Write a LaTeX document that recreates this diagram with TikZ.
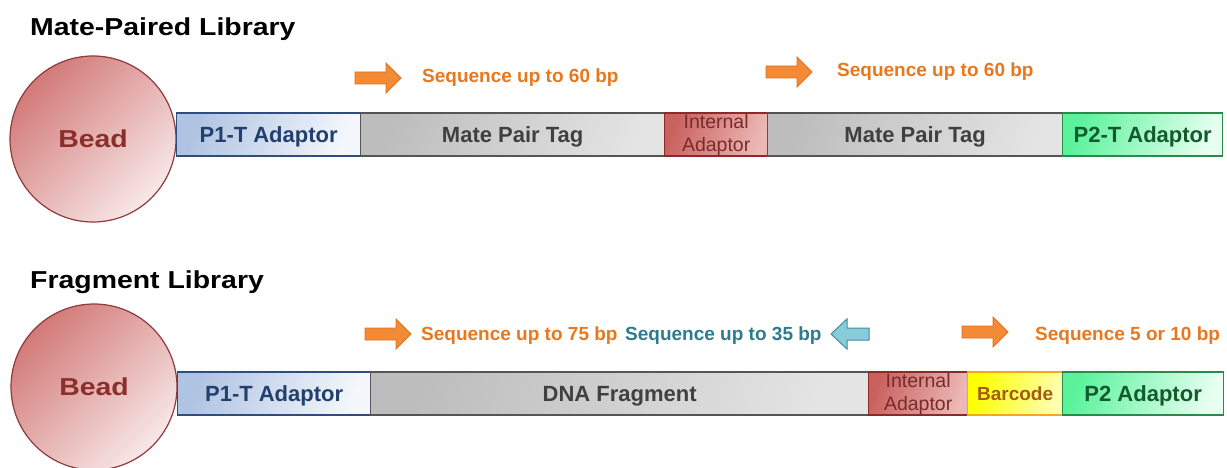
\documentclass[tikz,border=0pt]{standalone}
\usepackage{fontspec}
\setmainfont{Liberation Sans}
\newfontfamily\widesf{Liberation Sans}[FakeStretch=1.16]

% palette
\definecolor{beadA}{HTML}{D27A78}
\definecolor{beadB}{HTML}{F8E8E8}
\definecolor{beadline}{HTML}{8E3B3B}
\definecolor{beadtext}{HTML}{8B2F2B}
\definecolor{pA}{HTML}{AFC3E2}
\definecolor{pB}{HTML}{F4F7FC}
\definecolor{pline}{HTML}{2F4D7E}
\definecolor{ptext}{HTML}{223F6E}
\definecolor{tagA}{HTML}{BDBDBD}
\definecolor{tagB}{HTML}{E4E4E4}
\definecolor{tagline}{HTML}{555555}
\definecolor{tagtext}{HTML}{404040}
\definecolor{intA}{HTML}{C9615E}
\definecolor{intB}{HTML}{ECB8B6}
\definecolor{intline}{HTML}{8B2A2A}
\definecolor{inttext}{HTML}{7A2B2B}
\definecolor{grA}{HTML}{5CF29C}
\definecolor{grB}{HTML}{E6FFF0}
\definecolor{grline}{HTML}{2A8A4A}
\definecolor{grtext}{HTML}{135A2C}
\definecolor{bcA}{HTML}{FFFF00}
\definecolor{bcB}{HTML}{FFFFB0}
\definecolor{bcline}{HTML}{F2A81C}
\definecolor{bctext}{HTML}{A65A12}
\definecolor{orA}{HTML}{F28A36}
\definecolor{orline}{HTML}{E2701C}
\definecolor{ortext}{HTML}{E8781E}
\definecolor{tlA}{HTML}{88CCDA}
\definecolor{tlline}{HTML}{3D8EA2}
\definecolor{tltext}{HTML}{2D7B8E}

\tikzset{
  % block arrows pointing right / left, drawn from the tail point
  pics/rblock/.style={code={
    \path[pic actions] (0,-6) -- (31,-6) -- (31,-15) -- (46,0) -- (31,15) -- (31,6) -- (0,6) -- cycle;}},
  pics/lblock/.style={code={
    \path[pic actions] (0,-6) -- (-22,-6) -- (-22,-15) -- (-38,0) -- (-22,15) -- (-22,6) -- (0,6) -- cycle;}},
  title/.style={font=\widesf\bfseries\fontsize{24.5}{30}\selectfont, inner sep=0pt, anchor=base west},
  bead/.style={circle, minimum size=166pt, inner sep=0pt, draw=beadline, line width=1.2pt,
    top color=beadA, bottom color=beadB, shading angle=45, text=beadtext,
    text height=17.5pt, text depth=0pt,
    font=\widesf\bfseries\fontsize{24.5}{28}\selectfont},
  segbase/.style={rectangle, line width=1.3pt, inner sep=0pt, minimum height=43pt, anchor=west},
  seg/.style={segbase, text height=15.8pt, text depth=0pt, font=\bfseries\fontsize{22}{26}\selectfont},
  grad/.style 2 args={left color=#1, right color=#2, shading angle=70},
  pseg/.style={seg, draw=pline, grad={pA}{pB}, text=ptext},
  tagseg/.style={seg, draw=tagline, grad={tagA}{tagB}, text=tagtext},
  intseg/.style={segbase, draw=intline, grad={intA}{intB}, text=inttext, align=center,
    font=\fontsize{19.5}{23}\selectfont},
  grseg/.style={seg, draw=grline, grad={grA}{grB}, text=grtext},
  bcseg/.style={seg, draw=bcline, grad={bcA}{bcB}, text=bctext, text height=13.6pt,
    font=\bfseries\fontsize{19}{22}\selectfont},
  seqtext/.style={font=\bfseries\fontsize{19}{22}\selectfont, inner sep=0pt, anchor=base west},
  orarrow/.style={fill=orA, draw=orline, line width=0.8pt},
  tlarrow/.style={fill=tlA, draw=tlline, line width=1pt},
}

\begin{document}
\begin{tikzpicture}[x=1pt,y=-1pt]
\fill[white] (0,0) rectangle (1227,468);
\useasboundingbox (0,0) rectangle (1227,468);

% ---------- mate-paired library ----------
\node[title] (t1) at (30,36) {Mate-Paired Library};

\pic[orarrow] at (355,78) {rblock};
\node[seqtext, text=ortext] (s1) at (422,83) {Sequence up to 60 bp};
\pic[orarrow] at (766,72) {rblock};
\node[seqtext, text=ortext] (s2) at (837,77) {Sequence up to 60 bp};

\node[bead] (bead1) at (93,139) {Bead};
\node[pseg, minimum width=184pt] (p1a) at (176,134.5) {P1-T Adaptor};
\node[tagseg, minimum width=304pt] (tag1) at (360,134.5) {Mate Pair Tag};
\node[intseg, minimum width=103pt] (int1) at (664,134.5) {Internal\\Adaptor};
\node[tagseg, minimum width=295pt] (tag2) at (767,134.5) {Mate Pair Tag};
\node[grseg, minimum width=160pt] (p2t) at (1062,134.5) {P2-T Adaptor};

% ---------- fragment library ----------
\node[title] (t2) at (30,288) {Fragment Library};

\pic[orarrow] at (365,334) {rblock};
\node[seqtext, text=ortext] (s3) at (421,340) {Sequence up to 75 bp};
\node[seqtext, text=tltext] (s4) at (625,340) {Sequence up to 35 bp};
\pic[tlarrow] at (869,334) {lblock};
\pic[orarrow] at (962,332) {rblock};
\node[seqtext, text=ortext] (s5) at (1035,340) {Sequence 5 or 10 bp};

\node[bead] (bead2) at (94,387) {Bead};
\node[pseg, minimum width=193pt] (p1b) at (177,393.5) {P1-T Adaptor};
\node[tagseg, minimum width=498pt] (dna) at (370,393.5) {DNA Fragment};
\node[intseg, minimum width=99pt] (int2) at (868,393.5) {Internal\\Adaptor};
\node[bcseg, minimum width=95pt] (bc) at (967,393.5) {Barcode};
\node[grseg, minimum width=161pt] (p2) at (1062,393.5) {P2 Adaptor};
\end{tikzpicture}
\end{document}
